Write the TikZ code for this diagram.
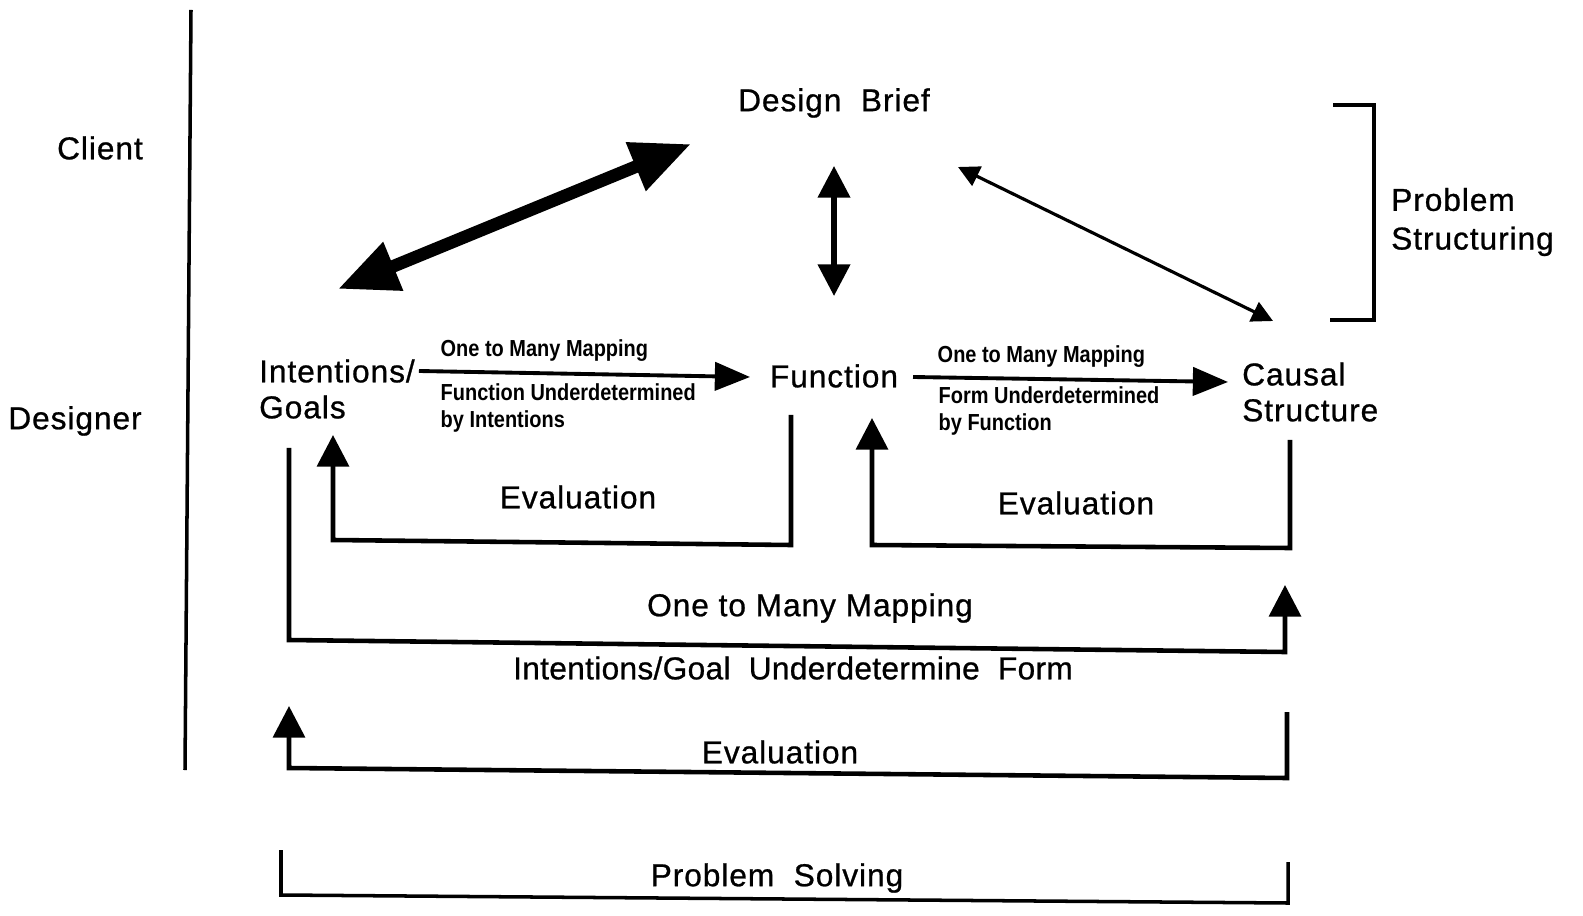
\documentclass[tikz,border=0pt]{standalone}
\usepackage{fontspec}
\setmainfont{Liberation Sans}[LetterSpace=3, FakeBold=0.8]
\newfontfamily\maplabel{Liberation Sans}[FakeStretch=0.86]
\usetikzlibrary{arrows.meta}

\begin{document}
\begin{tikzpicture}[x=0.01cm, y=-0.01cm,
    font=\fontsize{9}{10.2}\selectfont,
    loop/.style={line width=1.3pt, -{Triangle[length=9pt,width=9pt]}},
    maparrow/.style={line width=1.1pt, -{Triangle[length=10pt,width=8pt]}}]

  \useasboundingbox (0,0) rectangle (1583,916);

  % roles
  \draw[line width=1pt] (191,10) -- (185,770);
  \begin{scope}[every node/.style={inner sep=1pt}]
    \node (client)   at (100,148) {Client};
    \node (designer) at (75,421)  {Designer};
    \node (brief)    at (834,103) {Design\ \ Brief};
    \node (function) at (834,376) {Function};
    \node[anchor=west] (int)   at (255,371) {Intentions/};
    \node[anchor=west] (goals) at (255,407) {Goals};
    \node[anchor=west, align=left] (causal) at (1238,392) {Causal\\Structure};
    \node[anchor=west, align=left, font=\fontsize{9}{11}\selectfont] (structuring) at (1387,222) {Problem\\Structuring};
  \end{scope}

  % mapping labels
  \begin{scope}[every node/.style={anchor=west, inner sep=0pt, align=left,
      font=\maplabel\bfseries\fontsize{6.6}{7.6}\selectfont}]
    \node (map1)   at (440,351) {One to Many Mapping};
    \node (under1) at (440,408) {Function Underdetermined\\by Intentions};
    \node (map2)   at (937,357) {One to Many Mapping};
    \node (under2) at (938,411) {Form Underdetermined\\by Function};
  \end{scope}

  \begin{scope}[every node/.style={inner sep=1pt}]
    \node (eval1)      at (578,497) {Evaluation};
    \node (eval2)      at (1076,503) {Evaluation};
    \node (onemany)    at (810,608) {One to Many Mapping};
    \node[font=\fontsize{9}{10.2}\selectfont\addfontfeatures{LetterSpace=1}] (underform) at (793,668) {Intentions/Goal\ \ Underdetermine\ \ Form};
    \node (eval3)      at (780,752) {Evaluation};
    \node (solving)    at (777,878) {Problem\ \ Solving};
  \end{scope}

  % ends of the arrows round the design brief
  \coordinate (g1) at (338,289);
  \coordinate (b1) at (691,144);
  \coordinate (b2) at (834,166);
  \coordinate (f1) at (834,296);
  \coordinate (b3) at (958,167);
  \coordinate (c1) at (1273,321);

  \draw[line width=3.6pt, {Triangle[length=17pt,width=14pt]}-{Triangle[length=17pt,width=14pt]}] (g1) -- (b1);
  \draw[line width=1.5pt, {Triangle[length=9pt,width=9pt]}-{Triangle[length=9pt,width=9pt]}] (b2) -- (f1);
  \draw[line width=0.9pt, {Triangle[length=6pt,width=6pt]}-{Triangle[length=6pt,width=6pt]}] (b3) -- (c1);

  % one to many mappings
  \coordinate (f0) at (750,377);
  \coordinate (f2) at (913,377);
  \coordinate (c2) at (1228,382);
  \draw[maparrow] (int.east) -- (f0);
  \draw[maparrow] (f2) -- (c2);

  % evaluation loops
  \coordinate (e1a) at (791,415);
  \coordinate (e1b) at (333,435);
  \draw[loop] (e1a) -- (791,545) -- (333,540) -- (e1b);
  \coordinate (e2a) at (1290,440);
  \coordinate (e2b) at (872,418);
  \draw[loop] (e2a) -- (1290,548) -- (872,545) -- (e2b);
  \coordinate (m3a) at (289,448);
  \coordinate (m3b) at (1285,585);
  \draw[loop] (m3a) -- (289,640) -- (1285,652) -- (m3b);
  \coordinate (e3a) at (1287,712);
  \coordinate (e3b) at (289,706);
  \draw[loop] (e3a) -- (1287,778) -- (289,768) -- (e3b);

  % brackets
  \draw[line width=1pt] (1333,105) -- (1374,105) -- (1374,320) -- (1330,320);
  \draw[line width=1pt] (281,850) -- (281,895) -- (1288,903) -- (1288,862);

\end{tikzpicture}
\end{document}
